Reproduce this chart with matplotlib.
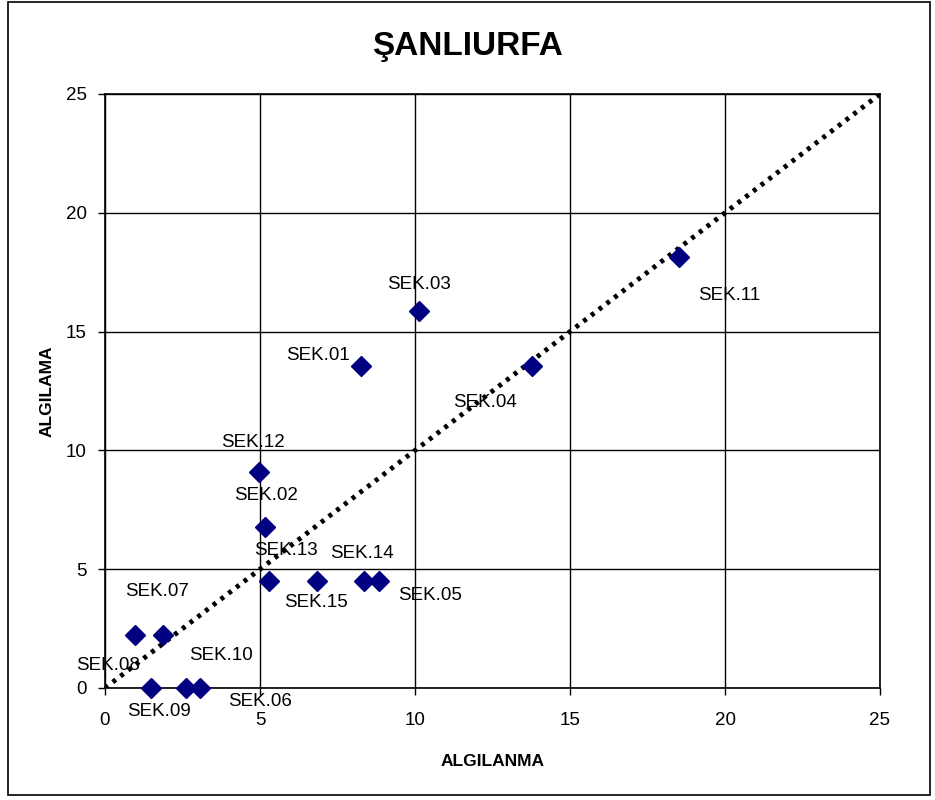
import matplotlib.pyplot as plt
from matplotlib.patches import Rectangle

plt.rcParams['font.family'] = ['Liberation Sans', 'DejaVu Sans']

# Şanlıurfa: algılanma - algılama değerleri
etiketler = ['SEK.01', 'SEK.02', 'SEK.03', 'SEK.04', 'SEK.05', 'SEK.06', 'SEK.07', 'SEK.08',
             'SEK.09', 'SEK.10', 'SEK.11', 'SEK.12', 'SEK.13', 'SEK.14', 'SEK.15']
algilanma = [8.26, 5.16, 10.13, 13.77, 8.84, 3.06, 1.87, 0.97,
             1.48, 2.6, 18.52, 4.97, 5.29, 8.35, 6.84]
algilama = [13.55, 6.78, 15.87, 13.55, 4.5, 0.0, 2.23, 2.23,
            0.0, 0.0, 18.14, 9.09, 4.5, 4.5, 4.5]

# etiket kaydırmaları (piksel)
kaydirma = {
    'SEK.01': (-43, 11), 'SEK.02': (1, 31), 'SEK.03': (0, 26), 'SEK.04': (-47, -36),
    'SEK.05': (51, -14), 'SEK.06': (60, -13), 'SEK.07': (-6, 44), 'SEK.08': (-27, -30),
    'SEK.09': (8, -24), 'SEK.10': (35, 32), 'SEK.11': (50, -39), 'SEK.12': (-6, 30),
    'SEK.13': (17, 31), 'SEK.14': (-2, 28), 'SEK.15': (-1, -21),
}

fig = plt.figure(figsize=(9.35, 8), dpi=100)
fig.patches.append(Rectangle((8 / 935, 5 / 800), 922 / 935, 793 / 800, transform=fig.transFigure,
                             fill=False, edgecolor='black', linewidth=1.2))
ax = fig.add_axes([105 / 935, 112 / 800, 775 / 935, 594 / 800])

ax.plot([0, 25], [0, 25], color='black', linewidth=3.5, linestyle=(0, (0.8, 1.2)), zorder=3)
ax.plot(algilanma, algilama, linestyle='none', marker='D', markersize=10.5,
        color='#000080', zorder=4, clip_on=False)

for ad, x, y in zip(etiketler, algilanma, algilama):
    dx, dy = kaydirma[ad]
    ax.annotate(ad, (x, y), xytext=(dx * 0.72, dy * 0.72), textcoords='offset points',
                ha='center', va='center', fontsize=13.5, zorder=5)

ax.set_xlim(0, 25)
ax.set_ylim(0, 25)
ax.set_xticks([0, 5, 10, 15, 20, 25])
ax.set_yticks([0, 5, 10, 15, 20, 25])
ax.grid(True, color='black', linewidth=1)
ax.set_axisbelow(True)
for s in ax.spines.values():
    s.set_linewidth(1.2)
ax.tick_params(labelsize=13.5, length=5, width=1)
ax.tick_params(axis='x', pad=12)
ax.tick_params(axis='y', pad=8)

ax.set_xlabel('ALGILANMA', fontsize=12.5, fontweight='bold', labelpad=18)
ax.set_ylabel('ALGILAMA', fontsize=12.5, fontweight='bold', labelpad=8)
fig.suptitle('ŞANLIURFA', fontsize=24, fontweight='bold', y=1 - 47 / 800, va='center')

fig.savefig('out.png', dpi=100)
